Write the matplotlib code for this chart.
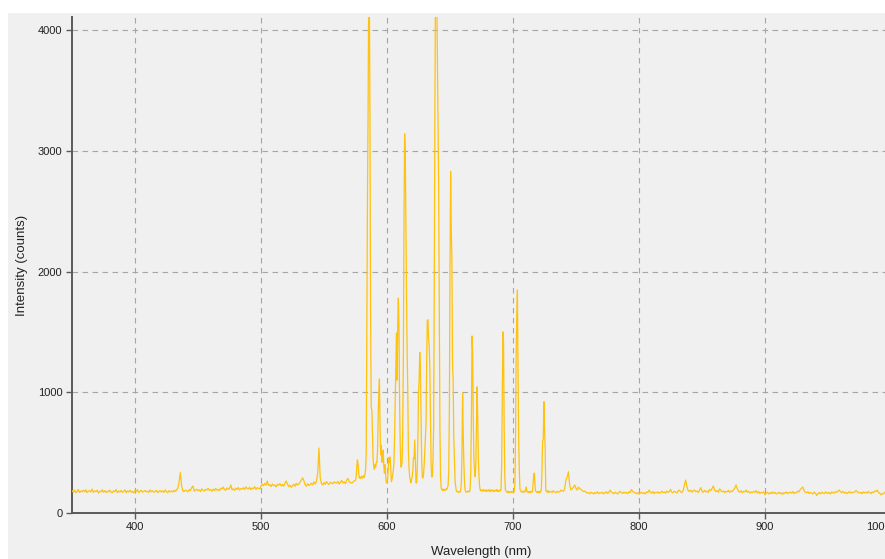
import numpy as np
import matplotlib
matplotlib.use("Agg")
import matplotlib.pyplot as plt
from matplotlib.patches import Rectangle

# ---------------- data ----------------
# 350..574 nm, 1 nm steps
counts_blue = [
    185,172,190,168,178,195,170,182,176,188,
    175,192,169,180,186,174,198,171,183,177,
    189,166,180,175,193,172,185,170,181,176,
    190,173,168,184,177,195,170,182,174,187,
    171,179,192,168,183,175,189,172,180,166,
    185,177,194,170,181,188,173,179,186,175,
    182,170,191,176,184,172,180,187,169,178,
    186,174,183,171,190,177,168,185,176,182,
    174,188,179,192,205,260,334,225,185,178,
    190,183,176,195,186,210,224,181,189,197,
    184,192,178,200,188,183,196,190,205,187,
    193,180,198,186,202,191,195,184,206,199,
    215,194,189,208,196,203,232,192,200,187,
    205,196,211,190,202,198,209,195,216,203,
    199,212,193,207,201,218,196,210,204,200,
    222,238,226,245,230,265,228,235,219,241,
    226,232,215,238,229,244,224,236,221,248,
    265,240,218,230,213,226,238,221,246,232,
    240,256,272,292,268,235,222,242,228,236,
    247,233,258,240,262,330,538,290,245,232,
    252,238,260,245,236,255,248,242,258,250,
    246,262,240,255,270,248,258,243,272,286,
    260,252,248,255,266,
]

# 575.0..729.5 nm, 0.5 nm steps
counts_peaks = [
    # 575.0 - 579.5
    270,300,380,440,410,330,290,300,285,295,
    # 580.0 - 584.5
    305,290,300,310,295,320,360,500,1540,2600,
    # 585.0 - 589.5
    3350,4400,4300,3230,1560,870,850,660,440,380,
    # 590.0 - 594.5
    360,400,380,420,420,520,800,1000,1110,700,
    # 595.0 - 599.5
    480,560,420,500,520,380,330,400,300,250,
    # 600.0 - 604.5
    250,280,380,460,420,464,350,260,280,320,
    # 605.0 - 609.5
    350,420,620,900,1210,1490,1100,1560,1780,1540,
    # 610.0 - 614.5
    900,560,380,390,420,700,1300,2460,3140,3000,
    # 615.0 - 619.5
    2400,1800,1330,1000,500,370,300,270,250,280,
    # 620.0 - 624.5
    300,350,460,450,605,450,250,250,350,600,
    # 625.0 - 629.5
    1000,1100,1330,1200,800,450,300,290,320,400,
    # 630.0 - 634.5
    520,650,745,1267,1598,1600,1450,1375,1200,800,
    # 635.0 - 639.5
    400,300,300,450,700,1820,3310,4400,4500,4300,
    # 640.0 - 644.5
    3770,3300,2690,1700,700,300,210,195,185,200,
    # 645.0 - 649.5
    190,185,195,190,200,195,210,230,350,853,
    # 650.0 - 654.5
    2000,2830,2350,2100,1240,1100,630,450,273,220,
    # 655.0 - 659.5
    185,175,180,175,170,178,175,190,250,500,
    # 660.0 - 664.5
    994,650,420,250,190,175,178,172,180,175,
    # 665.0 - 669.5
    182,176,200,350,800,1466,1325,745,440,350,
    # 670.0 - 674.5
    300,400,700,1045,800,450,300,220,190,185,
    # 675.0 - 679.5
    192,180,188,195,182,190,185,178,192,186,
    # 680.0 - 684.5
    180,188,194,182,176,190,184,192,180,186,
    # 685.0 - 689.5
    178,190,185,182,194,180,188,176,185,190,
    # 690.0 - 694.5
    182,200,400,1000,1500,1410,700,300,190,182,
    # 695.0 - 699.5
    176,170,180,172,168,178,174,170,180,172,
    # 700.0 - 704.5
    176,170,180,250,600,1300,1631,1847,1160,600,
    # 705.0 - 709.5
    356,200,185,178,172,180,175,170,182,176,
    # 710.0 - 714.5
    190,215,185,172,178,170,176,168,180,174,
    # 715.0 - 719.5
    172,180,250,322,330,220,180,175,170,178,
    # 720.0 - 724.5
    172,176,168,180,175,200,350,600,605,922,
    # 725.0 - 729.5
    700,549,190,180,175,185,170,180,175,178,
]

# 730..1000 nm, 1 nm steps
counts_red = [
    178,170,185,175,168,180,172,176,190,182,
    180,200,273,300,342,230,190,200,215,232,
    205,190,215,200,195,185,178,182,172,165,
    168,160,172,165,158,170,163,175,160,168,
    165,172,158,168,176,162,170,190,175,166,
    160,172,165,158,170,180,168,162,174,165,
    170,160,176,168,195,178,172,165,160,170,
    155,165,172,160,168,158,175,170,190,172,
    165,178,160,172,168,175,162,170,180,168,
    175,165,182,170,178,196,172,168,180,175,
    165,182,190,176,170,185,230,273,220,185,
    178,190,172,185,190,176,182,170,188,210,
    180,172,188,175,182,170,196,185,205,224,
    190,178,185,172,200,186,176,182,168,180,
    175,188,170,182,178,192,205,232,200,180,
    172,185,168,180,176,190,172,180,165,175,
    168,180,172,185,165,178,160,172,168,175,
    150,165,172,158,168,160,175,163,170,158,
    165,172,160,168,155,170,162,175,160,168,
    172,165,178,160,170,168,182,175,195,205,
    215,185,172,168,176,162,170,165,158,172,
    165,145,160,170,158,172,165,160,175,168,
    162,170,158,175,168,165,178,172,182,190,
    175,168,180,165,172,160,170,178,165,172,
    168,175,185,180,170,165,172,160,175,168,
    172,165,178,170,160,175,168,182,178,190,
    170,165,150,162,158,172,165,170,160,168,
    165,
]

wl_blue = np.arange(350, 350 + len(counts_blue), 1.0)
wl_peaks = 575.0 + 0.5 * np.arange(len(counts_peaks))
wl_red = np.arange(730, 730 + len(counts_red), 1.0)

wavelength = np.concatenate([wl_blue, wl_peaks, wl_red])
intensity = np.concatenate([counts_blue, counts_peaks, counts_red])

x_ticks = [400, 500, 600, 700, 800, 900, 1000]
y_ticks = [0, 1000, 2000, 3000, 4000]

# ---------------- figure ----------------
W, H = 885, 559
fig = plt.figure(figsize=(W / 100, H / 100), dpi=100, facecolor="white")
panel_col = "#f0f0f0"
fig.patches.append(Rectangle((8 / W, 0), 1, (H - 13) / H, transform=fig.transFigure,
                             facecolor=panel_col, edgecolor="none", zorder=-10))

left, right = 72, 891
top, bottom = 17, 513
ax = fig.add_axes([left / W, (H - bottom) / H, (right - left) / W, (bottom - top) / H])
ax.set_zorder(1)
ax.set_facecolor(panel_col)

ax.plot(wavelength, intensity, color="#ffc20e", lw=0.9, zorder=3)

ax.set_xlim(350, 1000)
ax.set_ylim(0, 4108)
ax.set_xticks(x_ticks)
ax.set_yticks(y_ticks)

ax.grid(True, color="#a6a6a6", lw=0.8, linestyle=(0, (5, 4)), zorder=1)
ax.set_axisbelow(True)

for s in ("top", "right"):
    ax.spines[s].set_visible(False)
for s in ("left", "bottom"):
    ax.spines[s].set_color("#5a5a5a")
    ax.spines[s].set_linewidth(1.4)

font = "Liberation Sans"
ax.tick_params(axis="both", direction="out", length=4.5, width=1.0, color="#5a5a5a",
               labelsize=8, labelcolor="#222222")
ax.tick_params(axis="y", pad=2.5)
ax.tick_params(axis="x", pad=2.0)
for lab in ax.get_xticklabels() + ax.get_yticklabels():
    lab.set_fontfamily(font)
# the last x label is pushed left to stay inside the panel, as in the reference
ax.get_xticklabels()[-1].set_horizontalalignment("right")

ax.set_xlabel("Wavelength (nm)", fontsize=9.5, fontfamily=font, color="#222222", labelpad=10)
ax.set_ylabel("Intensity (counts)", fontsize=9.5, fontfamily=font, color="#222222", labelpad=7)

fig.savefig("out.png", dpi=100, facecolor=fig.get_facecolor())
